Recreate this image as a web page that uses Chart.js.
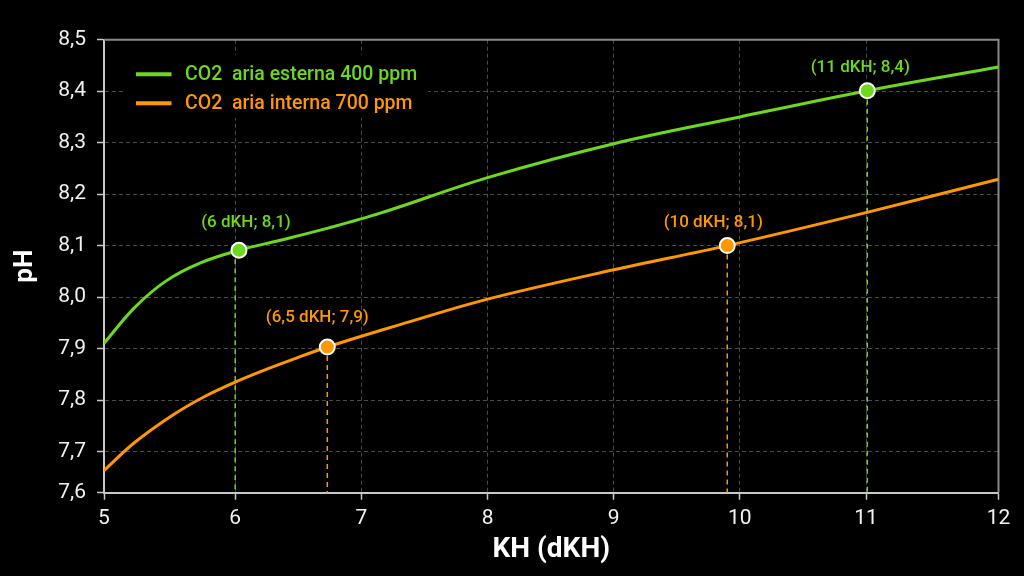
<!DOCTYPE html>
<html><head><meta charset="utf-8">
<style>html,body{margin:0;padding:0;background:#000;overflow:hidden}#wrap{width:1024px;height:576px}</style>
<script src="https://cdn.jsdelivr.net/npm/chart.js@4.4.1/dist/chart.umd.min.js"></script>
</head><body><div id="wrap"><canvas id="c" width="1024" height="576"></canvas></div>
<script>
// ---- data ----
const seriesLabels = ['CO2  aria esterna 400 ppm', 'CO2  aria interna 700 ppm'];
const seriesColors = ['#6cd81e', '#ff9700'];

const greenX = [4.96, 5.2, 5.45, 5.72, 6.03, 6.35, 6.75, 7.15, 8.0, 9.0, 10.0, 11.01, 12.05];
const greenY = [7.910, 7.979, 8.031, 8.066, 8.091, 8.110, 8.135, 8.163, 8.232, 8.298, 8.350, 8.401, 8.447];

const orangeX = [4.96, 5.2, 5.5, 5.75, 6.0, 6.25, 6.5, 6.73, 7.0, 7.3, 8.0, 9.0, 9.9, 11.0, 12.05];
const orangeY = [7.663, 7.717, 7.770, 7.806, 7.835, 7.860, 7.883, 7.903, 7.924, 7.946, 7.996, 8.053, 8.100, 8.164, 8.229];

const markX = [6.03, 6.73, 9.90, 11.01];
const markY = [8.091, 7.903, 8.100, 8.401];
const markDropX = [6.00, 6.73, 9.90, 11.01];
const markSeries = [0, 1, 1, 0];
const markLabels = ['(6 dKH; 8,1)', '(6,5 dKH; 7,9)', '(10 dKH; 8,1)', '(11 dKH; 8,4)'];

const xTicks = [5, 6, 7, 8, 9, 10, 11, 12];
const xTickLabels = ['5', '6', '7', '8', '9', '10', '11', '12'];
const yTicks = [7.6, 7.7, 7.8, 7.9, 8.0, 8.1, 8.2, 8.3, 8.4, 8.5];
const yTickLabels = ['7,6', '7,7', '7,8', '7,9', '8,0', '8,1', '8,2', '8,3', '8,4', '8,5'];
const xMin = 4.96, xMax = 12.05, yMin = 7.62, yMax = 8.5;
const xTitle = 'KH (dKH)';
const yTitle = 'pH';

// ---- chart ----
const FONT = 'Roboto, "DejaVu Sans", sans-serif';
const toPts = (xs, ys) => xs.map((x, i) => ({x: x, y: ys[i]}));
// first / last tick labels sit on the axis bounds
const edgeTicks = (vals, lo, hi) => vals.map((v, i) => ({value: i === 0 ? lo : (i === vals.length - 1 ? hi : v)}));

const labelOffsets = [[7, -27], [-10, -29], [-14, -23], [-7, -23]];

const extrasPlugin = {
  id: 'extras',
  beforeDatasetsDraw(chart) {
    const {ctx, scales: {x, y}, chartArea} = chart;
    ctx.save();
    // drop lines
    ctx.lineWidth = 1.5;
    ctx.setLineDash([5, 4]);
    markDropX.forEach((dx, i) => {
      const px = x.getPixelForValue(dx);
      ctx.strokeStyle = seriesColors[markSeries[i]];
      ctx.beginPath();
      ctx.moveTo(px, y.getPixelForValue(markY[i]));
      ctx.lineTo(px, chartArea.bottom);
      ctx.stroke();
    });
    ctx.setLineDash([]);
    // frame top/right
    ctx.strokeStyle = '#8a8a8a';
    ctx.lineWidth = 2;
    ctx.beginPath();
    ctx.moveTo(chartArea.left, chartArea.top);
    ctx.lineTo(chartArea.right, chartArea.top);
    ctx.lineTo(chartArea.right, chartArea.bottom);
    ctx.stroke();
    // legend
    const lx = chartArea.left, ly = chartArea.top;
    ctx.fillStyle = '#000';
    ctx.fillRect(lx + 21, ly + 15, 303, 63);
    ctx.font = '500 19.5px ' + FONT;
    ctx.textBaseline = 'middle';
    ctx.textAlign = 'left';
    seriesLabels.forEach((t, i) => {
      const yy = ly + 34.6 + i * 29;
      ctx.strokeStyle = seriesColors[i];
      ctx.lineWidth = 4;
      ctx.beginPath();
      ctx.moveTo(lx + 32, yy);
      ctx.lineTo(lx + 67.5, yy);
      ctx.stroke();
      ctx.fillStyle = seriesColors[i];
      ctx.fillText(t, lx + 81, yy + 1);
    });
    ctx.restore();
  },
  afterDatasetsDraw(chart) {
    const {ctx, scales: {x, y}} = chart;
    ctx.save();
    ctx.font = '500 17px ' + FONT;
    ctx.textAlign = 'center';
    ctx.textBaseline = 'middle';
    markLabels.forEach((t, i) => {
      ctx.fillStyle = seriesColors[markSeries[i]];
      ctx.fillText(t, x.getPixelForValue(markX[i]) + labelOffsets[i][0], y.getPixelForValue(markY[i]) + labelOffsets[i][1]);
    });
    ctx.restore();
  }
};

new Chart(document.getElementById('c'), {
  type: 'line',
  data: {
    datasets: [
      {label: seriesLabels[0], data: toPts(greenX, greenY), borderColor: seriesColors[0], borderWidth: 3,
       pointRadius: 0, tension: 0.35, order: 2},
      {label: seriesLabels[1], data: toPts(orangeX, orangeY), borderColor: seriesColors[1], borderWidth: 3,
       pointRadius: 0, tension: 0.35, order: 2},
      {type: 'scatter', label: 'punti', data: toPts(markX, markY), showLine: false,
       pointRadius: 7.5, pointBorderWidth: 2, pointBorderColor: '#ffffff',
       pointBackgroundColor: markSeries.map(s => seriesColors[s]), order: 1}
    ]
  },
  options: {
    responsive: false,
    animation: false,
    devicePixelRatio: 1,
    layout: {padding: {left: 0, right: 25.5, top: 39.7, bottom: 0}},
    plugins: {legend: {display: false}, tooltip: {enabled: false}},
    scales: {
      x: {
        type: 'linear', min: xMin, max: xMax,
        afterBuildTicks: s => { s.ticks = edgeTicks(xTicks, xMin, xMax); },
        afterFit: s => { s.height = 576 - 492.7; },
        ticks: {color: '#f2f2f2', font: {family: FONT, size: 21}, padding: 6, maxRotation: 0,
                callback: (v, i) => xTickLabels[i]},
        grid: {color: '#4a4a4a', lineWidth: 1, tickLength: 7, tickColor: '#c8c8c8', tickWidth: 1.5},
        border: {color: '#c8c8c8', width: 2, dash: [4, 3]},
        title: {display: true, text: xTitle, color: '#ffffff', font: {family: FONT, size: 28, weight: 'bold'},
                padding: {top: 0, bottom: 9}}
      },
      y: {
        type: 'linear', min: yMin, max: yMax,
        afterBuildTicks: s => { s.ticks = edgeTicks(yTicks, yMin, yMax); },
        afterFit: s => { s.width = 104; },
        ticks: {color: '#f2f2f2', font: {family: FONT, size: 21}, padding: 11,
                callback: (v, i) => yTickLabels[i]},
        grid: {color: '#4a4a4a', lineWidth: 1, tickLength: 7, tickColor: '#c8c8c8', tickWidth: 1.5},
        border: {color: '#c8c8c8', width: 2, dash: [4, 3]},
        title: {display: true, text: yTitle, color: '#ffffff', font: {family: FONT, size: 26, weight: 'bold'},
                padding: {top: 10, bottom: 0}}
      }
    }
  },
  plugins: [extrasPlugin]
});
</script>
</body></html>
